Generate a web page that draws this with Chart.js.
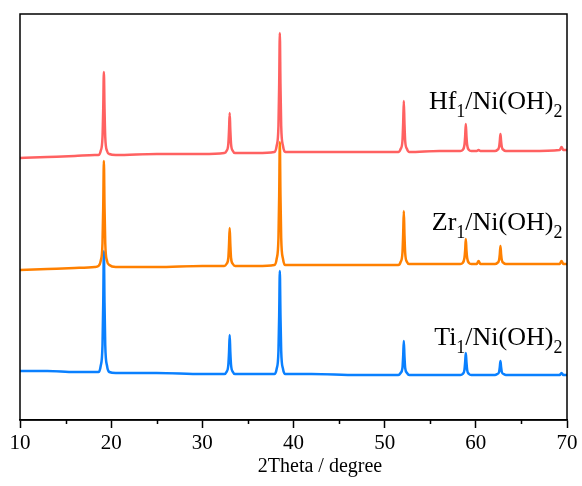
<!DOCTYPE html>
<html lang="en">
<head>
    <meta charset="UTF-8">
    <title>XRD patterns</title>
    <script src="https://cdn.jsdelivr.net/npm/chart.js"></script>
    <style>
        body {
            margin: 0;
            background: #fff;
        }

        .chart-container {
            width: 582px;
            height: 486px;
        }
    </style>
</head>
<body>
    <div class="chart-container">
        <canvas id="xrdChart"></canvas>
    </div>
    <script>
        // 2theta positions (degree), shared by all three patterns
        const twoTheta = [10, 13, 16, 18.2,
            18.6, 18.85, 19.05, 19.13, 19.2, 19.27, 19.35, 19.55, 19.8,
            20.5, 25, 30,
            32.4, 32.65, 32.85, 32.93, 33.0, 33.07, 33.15, 33.35, 33.6,
            36,
            37.9, 38.15, 38.35, 38.43, 38.5, 38.57, 38.65, 38.85, 39.1,
            42, 47,
            51.5, 51.75, 51.95, 52.03, 52.1, 52.17, 52.25, 52.45, 52.7,
            56,
            58.3, 58.55, 58.75, 58.83, 58.9, 58.97, 59.05, 59.25, 59.5,
            60.1, 60.3, 60.5,
            62.1, 62.35, 62.55, 62.63, 62.7, 62.77, 62.85, 63.05, 63.3,
            66, 69.2, 69.4, 69.6, 70];

        // intensities (a.u., already stacked with offsets)
        const hfValues = [262, 263, 264, 265,
            265, 269, 283, 312, 348, 312, 283, 269, 266,
            265, 266, 266,
            267, 269, 276, 290, 307, 290, 276, 269, 267,
            267,
            268, 274, 294, 336, 387, 336, 294, 274, 268,
            268, 268,
            268, 271, 279, 297, 319, 297, 279, 271, 268,
            269,
            269, 270, 275, 284, 296, 284, 275, 270, 269,
            269, 270, 269,
            269, 270, 273, 279, 286, 279, 273, 270, 269,
            269, 270, 273, 270, 270];
        const zrValues = [150, 151, 152, 153,
            154, 159, 177, 214, 259, 214, 177, 159, 155,
            153, 153, 154,
            154, 156, 162, 176, 192, 176, 162, 156, 154,
            154,
            155, 161, 182, 225, 278, 225, 182, 161, 155,
            155, 155,
            155, 158, 167, 186, 209, 186, 167, 158, 156,
            156,
            156, 157, 162, 170, 181, 170, 162, 157, 156,
            156, 159, 156,
            156, 157, 160, 166, 174, 166, 160, 157, 156,
            156, 156, 159, 156, 156];
        const tiValues = [49, 49, 48, 48,
            48, 54, 75, 117, 169, 117, 75, 54, 48,
            47, 47, 46,
            46, 48, 55, 68, 85, 68, 55, 48, 46,
            46,
            46, 51, 69, 105, 149, 105, 69, 51, 46,
            46, 45,
            45, 47, 52, 64, 79, 64, 52, 47, 45,
            45,
            45, 46, 50, 58, 67, 58, 50, 46, 45,
            45, 45, 45,
            45, 46, 48, 53, 59, 53, 48, 46, 45,
            45, 45, 47, 45, 45];

        const sampleNames = ['Hf', 'Zr', 'Ti'];
        const sampleColors = ['#ff6161', '#ff8000', '#0a80ff'];
        const labelY = [311, 190, 75];
        const xTicks = [10, 20, 30, 40, 50, 60, 70];
        const minorTicks = [15, 25, 35, 45, 55, 65];
        const xTitle = '2Theta / degree';

        const serif = "'Liberation Serif', 'Times New Roman', serif";

        function toPoints(values) {
            return values.map((v, i) => ({ x: twoTheta[i], y: v }));
        }

        // frame, minor ticks, axis title and sample labels
        const decorations = {
            id: 'decorations',
            afterDraw(chart) {
                const ctx = chart.ctx;
                const area = chart.chartArea;
                const xScale = chart.scales.x;
                const yScale = chart.scales.y;
                ctx.save();
                ctx.strokeStyle = '#000';
                ctx.lineWidth = 1.5;
                ctx.strokeRect(area.left, area.top, area.right - area.left, area.bottom - area.top);

                ctx.beginPath();
                minorTicks.forEach(t => {
                    const px = Math.round(xScale.getPixelForValue(t)) + 0.5;
                    ctx.moveTo(px, area.bottom);
                    ctx.lineTo(px, area.bottom + 4);
                });
                ctx.stroke();

                ctx.fillStyle = '#000';
                ctx.textAlign = 'center';
                ctx.textBaseline = 'middle';
                ctx.font = '20px ' + serif;
                ctx.fillText(xTitle, 320, 467);

                ctx.textAlign = 'left';
                ctx.textBaseline = 'alphabetic';
                const mainFont = '26px ' + serif;
                const subFont = '18px ' + serif;
                sampleNames.forEach((name, i) => {
                    const parts = [
                        [name, false], ['1', true], ['/Ni(OH)', false], ['2', true]
                    ];
                    let width = 0;
                    parts.forEach(p => {
                        ctx.font = p[1] ? subFont : mainFont;
                        width += ctx.measureText(p[0]).width;
                    });
                    let x = xScale.getPixelForValue(69.5) - width;
                    const y = yScale.getPixelForValue(labelY[i]);
                    parts.forEach(p => {
                        ctx.font = p[1] ? subFont : mainFont;
                        ctx.fillText(p[0], x, p[1] ? y + 8 : y);
                        x += ctx.measureText(p[0]).width;
                    });
                });
                ctx.restore();
            }
        };

        const allValues = [hfValues, zrValues, tiValues];

        const ctx = document.getElementById('xrdChart').getContext('2d');
        new Chart(ctx, {
            type: 'line',
            data: {
                datasets: sampleNames.map((name, i) => ({
                    label: name + '1/Ni(OH)2',
                    data: toPoints(allValues[i]),
                    borderColor: sampleColors[i],
                    borderWidth: 2.5,
                    borderJoinStyle: 'round',
                    cubicInterpolationMode: 'monotone',
                    pointRadius: 0,
                    fill: false,
                })),
            },
            options: {
                responsive: true,
                maintainAspectRatio: false,
                animation: false,
                layout: {
                    padding: { left: 20, right: 15, top: 14, bottom: 0 }
                },
                plugins: {
                    legend: { display: false },
                    tooltip: { enabled: false },
                },
                scales: {
                    x: {
                        type: 'linear',
                        min: 10,
                        max: 70,
                        afterBuildTicks(scale) {
                            scale.ticks = xTicks.map(v => ({ value: v }));
                        },
                        afterFit(scale) {
                            scale.height = 66;
                        },
                        grid: {
                            drawOnChartArea: false,
                            tickLength: 8,
                            tickColor: '#000',
                            tickWidth: 1.5,
                        },
                        border: { color: '#000', width: 1.5 },
                        ticks: {
                            color: '#000',
                            padding: 3,
                            maxRotation: 0,
                            font: { family: serif, size: 21 },
                        },
                    },
                    y: {
                        display: false,
                        min: 0,
                        max: 406,
                    },
                },
            },
            plugins: [decorations],
        });
    </script>
</body>
</html>
